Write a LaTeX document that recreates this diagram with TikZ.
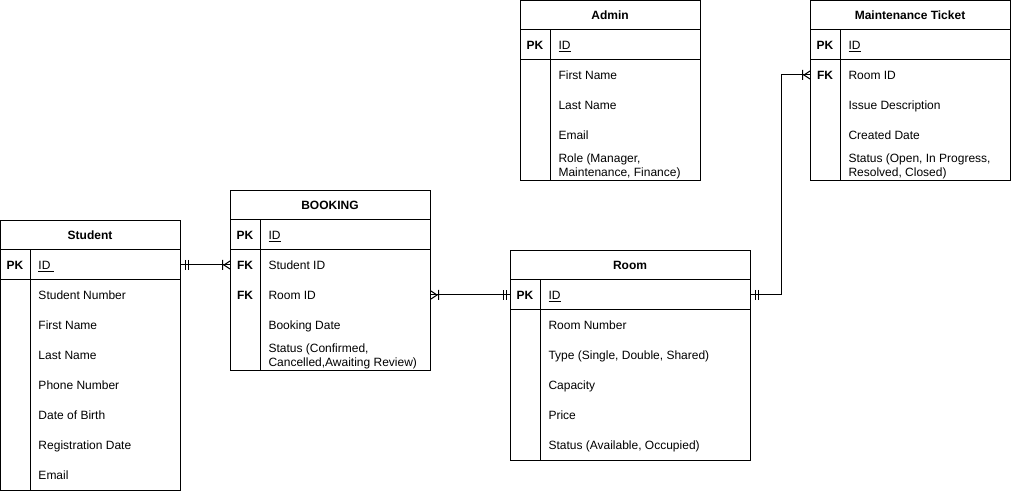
\documentclass[tikz,border=0pt]{standalone}
\usepackage{fontspec}
\setmainfont{Liberation Sans}

\begin{document}
\begin{tikzpicture}[x=0.75pt, y=-0.75pt, line width=0.75pt,
  every node/.style={font=\fontsize{9}{10.5}\selectfont, inner sep=0pt},
  entity/.style={draw, anchor=north west},
  heading/.style={font=\fontsize{9}{10.5}\selectfont\bfseries},
  key/.style={font=\fontsize{9}{10.5}\selectfont\bfseries, text height=8pt, text depth=1.6pt},
  attr/.style={anchor=west, text height=8pt, text depth=1.6pt},
  attrtwo/.style={anchor=west, align=left},
  mone/.pic={\draw (4,-5) -- (4,5) (7,-5) -- (7,5);},
  mmany/.pic={\draw (0,-4) -- (6,0) -- (0,4) (7.5,-5) -- (7.5,5);}]
\useasboundingbox (0,0) rectangle (1011,491);

% Student
\node[entity, minimum width=135pt, minimum height=202.5pt] (student) at (0,220) {};
\node[heading] (student-t) at (90,235) {Student};
\draw (0,250) -- (180,250) (0,280) -- (180,280) (30,250) -- (30,490);
\node[key] (student-pk) at (15,265) {PK};
\node[attr] (student-id) at (38,265) {\underline{ID\ }};
\foreach \a [count=\i] in {Student Number,First Name,Last Name,Phone Number,Date of Birth,Registration Date,Email}
  \node[attr] (student-\i) at (38,{265+30*\i}) {\a};

% Booking
\node[entity, minimum width=150pt, minimum height=135pt] (booking) at (230,190) {};
\node[heading] (booking-t) at (330,205) {BOOKING};
\draw (230,220) -- (430,220) (230,250) -- (430,250) (260,220) -- (260,370);
\node[key] (booking-pk) at (245,235) {PK};
\node[attr] (booking-id) at (268,235) {\underline{ID}};
\node[key] (booking-fk1) at (245,265) {FK};
\node[attr] (booking-1) at (268,265) {Student ID};
\node[key] (booking-fk2) at (245,295) {FK};
\node[attr] (booking-2) at (268,295) {Room ID};
\node[attr] (booking-3) at (268,325) {Booking Date};
\node[attrtwo] (booking-4) at (268,356) {Status (Confirmed,\\Cancelled,Awaiting Review)};

% Room
\node[entity, minimum width=180pt, minimum height=157.5pt] (room) at (510,250) {};
\node[heading] (room-t) at (630,265) {Room};
\draw (510,280) -- (750,280) (510,310) -- (750,310) (540,280) -- (540,460);
\node[key] (room-pk) at (525,295) {PK};
\node[attr] (room-id) at (548,295) {\underline{ID}};
\foreach \a [count=\i] in {Room Number,{Type (Single, Double, Shared)},Capacity,Price,{Status (Available, Occupied)}}
  \node[attr] (room-\i) at (548,{295+30*\i}) {\a};

% Admin
\node[entity, minimum width=135pt, minimum height=135pt] (admin) at (520,0.5) {};
\node[heading] (admin-t) at (610,15) {Admin};
\draw (520,30) -- (700,30) (520,60) -- (700,60) (550,30) -- (550,180);
\node[key] (admin-pk) at (535,45) {PK};
\node[attr] (admin-id) at (558,45) {\underline{ID}};
\foreach \a [count=\i] in {First Name,Last Name,Email}
  \node[attr] (admin-\i) at (558,{45+30*\i}) {\a};
\node[attrtwo] (admin-4) at (558,166) {Role (Manager,\\Maintenance, Finance)};

% Maintenance Ticket
\node[entity, minimum width=150pt, minimum height=135pt] (ticket) at (810,0.5) {};
\node[heading] (ticket-t) at (910,15) {Maintenance Ticket};
\draw (810,30) -- (1010,30) (810,60) -- (1010,60) (840,30) -- (840,180);
\node[key] (ticket-pk) at (825,45) {PK};
\node[attr] (ticket-id) at (848,45) {\underline{ID}};
\node[key] (ticket-fk) at (825,75) {FK};
\node[attr] (ticket-1) at (848,75) {Room ID};
\node[attr] (ticket-2) at (848,105) {Issue Description};
\node[attr] (ticket-3) at (848,135) {Created Date};
\node[attrtwo] (ticket-4) at (848,166) {Status (Open, In Progress,\\Resolved, Closed)};

% relations
\draw (student-id -| student.east) -- (booking-1 -| booking.west);
\path (student-id -| student.east) pic {mone};
\path (booking-1 -| booking.west) pic[rotate=180] {mmany};

\draw (booking-2 -| booking.east) -- (room-id -| room.west);
\path (booking-2 -| booking.east) pic {mmany};
\path (room-id -| room.west) pic[rotate=180] {mone};

\draw (room-id -| room.east) -- ++(30,0) |- (ticket-1 -| ticket.west);
\path (room-id -| room.east) pic {mone};
\path (ticket-1 -| ticket.west) pic[rotate=180] {mmany};
\end{tikzpicture}
\end{document}
